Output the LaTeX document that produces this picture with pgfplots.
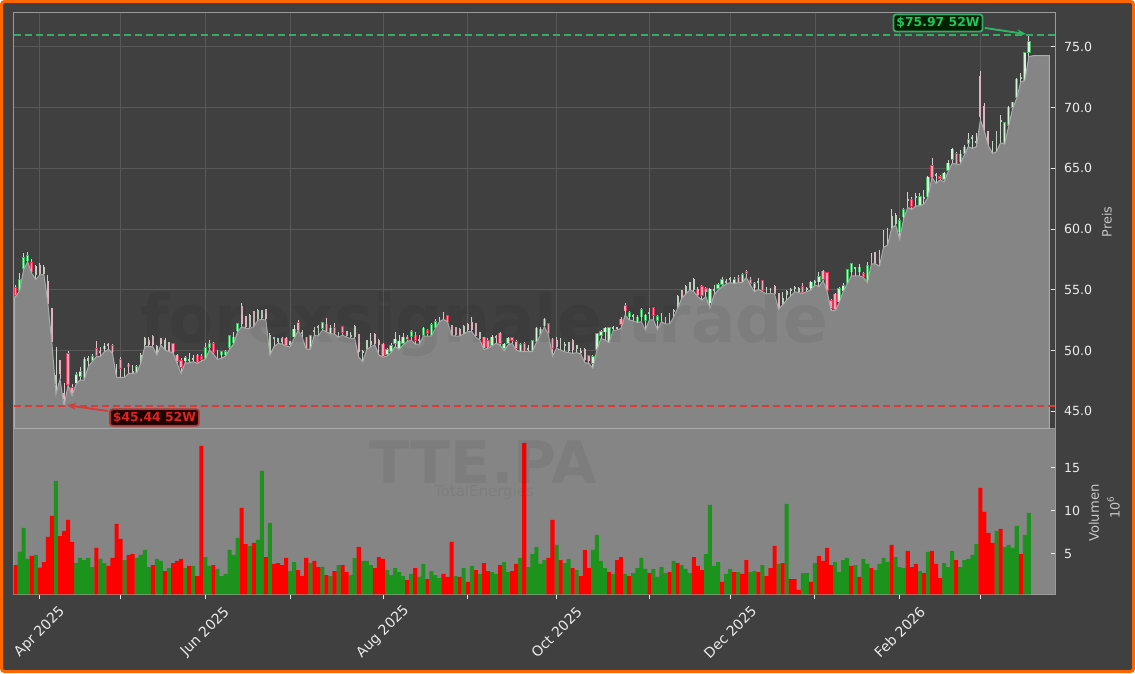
\documentclass[border=0pt]{standalone}
\usepackage{fontspec}
\setmainfont{DejaVu Sans}
\usepackage{pgfplots}
\usepackage{pgfplotstable}
\pgfplotsset{compat=1.18}
\usetikzlibrary{arrows.meta}
\definecolor{bgc}{HTML}{404040}
\definecolor{orangec}{HTML}{FF6600}
\definecolor{areac}{HTML}{858585}
\definecolor{areal}{HTML}{ABABAB}
\definecolor{gridc}{HTML}{585858}
\definecolor{spinec}{HTML}{9A9A9A}
\definecolor{volr}{HTML}{FF0000}
\definecolor{volg}{HTML}{1C931C}
\definecolor{cG}{HTML}{3DB860}
\definecolor{cGi}{HTML}{D5F2DA}
\definecolor{cR}{HTML}{E8345A}
\definecolor{cRi}{HTML}{F3A6B8}
\definecolor{cg}{HTML}{BCCFBF}
\definecolor{cr}{HTML}{DDB4BE}
\definecolor{wG}{HTML}{C9D6CB}
\definecolor{wR}{HTML}{DCC4CA}
\definecolor{hiG}{HTML}{3CA868}
\definecolor{loR}{HTML}{D63C3C}
\definecolor{txG}{HTML}{22C55E}
\definecolor{txR}{HTML}{DC2626}
% columns: index, kind (1 up, 2 down, 3 pale up, 4 pale down, 0 outline only),
% body top, body bottom, high, low, volume is red, volume in millions
\pgfplotstableread{
i k t b h l r v
-0.25 0 54.42 54.42 54.42 54.42 2 0.3
0 2 55.19 54.53 55.38 54.42 1 3.68
1 1 55.85 54.97 56.40 54.92 0 5.23
2 1 57.66 56.76 57.99 56.67 0 7.98
3 1 57.77 57.39 58.13 57.30 0 4.38
4 2 57.25 56.48 57.50 56.34 1 4.73
5 3 56.89 56.21 57.03 55.85 0 4.85
6 4 57.03 56.34 57.17 56.21 1 3.37
7 3 56.84 56.34 57.03 56.26 1 4.03
8 4 55.66 53.88 56.21 53.82 1 6.94
9 4 53.46 50.72 53.50 50.58 1 9.38
10 3 47.98 47.24 50.25 46.41 0 13.45
11 4 49.21 48.06 49.25 47.62 1 7.05
12 4 46.47 46.06 47.29 45.44 1 7.64
13 2 49.76 47.24 49.98 47.15 1 8.91
14 2 46.94 46.47 47.24 46.28 1 6.36
15 1 47.98 47.35 48.25 47.24 0 3.91
16 1 48.28 47.90 48.66 47.57 0 4.50
17 1 49.27 47.70 49.43 47.57 0 4.26
18 3 49.35 49.16 49.54 48.66 0 4.50
19 1 49.51 49.21 49.71 49.08 0 3.45
20 2 50.17 49.60 50.80 49.49 1 5.66
21 4 49.90 49.82 50.31 49.49 0 4.38
22 1 50.36 50.14 50.58 49.90 0 3.91
23 4 50.53 50.42 50.64 50.09 1 3.57
24 2 50.42 49.90 50.53 49.76 1 4.50
25 3 48.86 48.75 48.90 47.79 1 8.45
26 2 49.21 48.53 49.49 47.79 1 6.71
27 3 48.22 48.11 48.53 47.79 0 4.26
28 2 48.86 48.66 48.94 48.11 1 4.85
29 3 48.31 48.17 48.80 48.11 1 4.96
30 1 48.69 48.25 48.80 48.17 0 4.50
31 3 49.62 48.99 49.82 48.94 0 4.85
32 3 51.00 50.45 51.13 50.31 0 5.43
33 4 50.86 50.45 51.08 50.31 0 3.45
34 4 51.19 50.45 51.25 50.31 1 3.68
35 3 50.36 49.76 50.45 49.62 0 4.38
36 4 51.00 50.58 51.00 50.45 0 4.15
37 3 50.86 50.17 51.00 50.04 1 2.98
38 4 50.64 49.98 50.72 49.90 0 3.33
39 2 50.58 49.90 50.62 49.82 1 3.91
40 2 49.60 49.10 49.71 48.94 1 4.15
41 2 49.16 48.61 49.35 48.11 1 4.38
42 1 49.43 49.16 49.54 48.99 0 3.33
43 3 49.27 49.16 49.76 48.99 1 3.57
44 3 49.32 49.21 49.62 49.08 0 3.57
45 2 49.60 49.02 49.71 48.94 1 2.40
46 2 49.49 49.27 49.71 49.13 1 17.52
47 1 50.25 49.35 50.58 49.27 0 4.61
48 1 50.58 50.25 50.86 50.04 0 3.57
49 2 50.58 49.84 50.69 49.71 1 3.68
50 3 49.49 49.35 50.04 49.27 0 3.22
51 1 49.90 49.65 49.98 49.35 0 2.40
52 1 49.90 49.65 50.04 49.54 0 2.64
53 1 51.19 50.25 51.22 50.09 0 5.43
54 1 51.08 50.64 51.54 50.53 0 4.85
55 1 52.23 51.63 52.28 51.54 0 6.82
56 4 53.66 52.23 53.93 51.96 1 10.31
57 4 52.83 51.96 52.86 51.82 1 6.12
58 3 52.92 51.96 53.00 51.82 0 5.89
59 4 53.24 52.09 53.27 51.96 1 6.24
60 3 53.33 52.64 53.38 52.50 0 6.59
61 3 53.27 52.72 53.33 52.56 0 14.61
62 4 53.38 52.64 53.44 52.50 1 4.61
63 3 51.27 49.76 51.41 49.62 0 8.57
64 3 51.05 50.94 51.13 50.31 1 3.80
65 3 51.00 50.72 51.05 50.58 1 3.91
66 3 51.00 50.72 51.08 50.53 1 3.68
67 2 51.00 50.45 51.13 50.36 1 4.50
68 3 50.72 50.45 50.80 50.31 0 2.98
69 1 51.74 51.13 52.09 51.00 0 4.03
70 2 52.28 51.68 52.50 51.63 1 3.10
71 3 51.47 51.36 51.69 51.08 1 2.40
72 2 51.08 50.18 51.14 50.12 1 4.50
73 1 51.22 50.18 51.27 50.09 0 3.91
74 3 51.69 51.58 51.96 51.27 1 4.15
75 3 51.96 51.85 52.10 51.19 1 3.45
76 1 52.29 51.82 52.37 51.69 0 3.45
77 2 52.15 51.63 52.65 51.55 1 2.52
78 1 51.82 51.41 52.10 51.36 0 2.40
79 2 51.90 51.47 52.29 51.36 1 2.98
80 3 51.33 51.22 51.55 51.08 0 3.68
81 2 51.96 51.49 52.01 51.27 1 3.68
82 4 51.55 51.19 51.63 51.08 1 2.87
83 3 51.27 51.14 51.55 51.00 0 2.52
84 3 52.01 51.14 52.10 51.00 0 4.50
85 4 51.33 49.90 51.36 49.44 1 5.78
86 3 49.96 49.85 50.04 49.08 0 4.15
87 3 50.81 50.18 50.86 50.09 0 4.15
88 3 50.73 50.45 51.41 50.31 0 3.68
89 4 51.36 50.59 51.41 50.45 1 3.33
90 4 50.81 50.45 50.92 49.63 1 4.61
91 2 50.51 49.55 50.59 49.44 1 4.38
92 1 50.04 49.66 50.18 49.55 0 3.10
93 1 50.37 49.93 50.59 49.82 0 2.52
94 1 50.92 50.59 51.55 50.31 0 3.33
95 1 50.75 50.18 51.27 50.09 0 2.87
96 1 51.08 50.59 51.41 50.45 0 2.40
97 2 51.08 50.92 51.27 50.73 1 1.94
98 1 51.52 51.19 51.69 50.86 0 2.64
99 2 51.25 50.86 51.55 50.53 1 3.33
100 3 50.92 50.81 51.27 50.53 0 2.29
101 1 51.82 51.27 51.96 51.19 0 3.80
102 2 51.60 51.41 51.74 51.19 1 2.05
103 1 52.10 51.27 52.23 51.19 0 2.98
104 1 52.37 51.88 52.56 51.82 0 2.52
105 3 52.56 52.45 52.78 52.37 0 2.17
106 3 52.89 52.78 53.19 52.56 1 2.64
107 2 52.84 52.37 52.92 52.37 1 2.29
108 4 52.10 51.27 52.13 51.22 1 6.36
109 4 51.90 51.27 51.96 51.19 0 2.40
110 4 51.77 51.27 51.82 51.19 1 2.29
111 3 52.01 51.47 52.10 51.36 0 3.33
112 4 52.18 51.69 52.23 51.55 1 1.71
113 4 52.29 51.69 52.78 51.55 0 3.57
114 4 52.23 51.19 52.29 51.08 1 3.10
115 3 51.47 51.00 51.55 50.86 0 2.64
116 2 51.08 50.23 51.14 50.09 1 3.91
117 2 50.81 50.31 51.00 50.18 1 2.98
118 1 51.08 50.45 51.27 50.37 0 2.87
119 3 51.19 51.08 51.27 50.59 0 2.64
120 2 51.41 50.59 51.55 50.45 1 3.68
121 1 50.51 50.18 50.59 49.98 0 4.03
122 1 51.00 50.59 51.14 50.45 0 2.87
123 2 51.05 50.86 51.14 50.59 1 2.98
124 2 50.73 50.18 50.86 50.04 1 3.80
125 1 50.45 49.98 50.59 49.90 0 4.50
126 2 50.53 49.98 50.73 49.90 1 17.87
127 3 50.18 50.04 50.45 49.90 0 3.45
128 1 50.78 50.04 50.86 49.90 0 4.96
129 1 51.82 50.73 51.90 50.64 0 5.78
130 1 51.74 51.36 51.90 51.27 0 3.80
131 1 52.56 52.04 52.65 51.96 0 4.26
132 2 52.23 51.41 52.29 51.27 1 4.50
133 2 50.92 50.18 51.00 49.55 1 8.91
134 4 50.81 50.31 51.08 50.18 0 6.01
135 3 50.73 50.18 51.00 50.04 1 4.26
136 3 50.51 50.37 50.73 49.90 0 3.91
137 3 50.64 49.98 50.73 49.82 0 4.38
138 4 50.86 50.04 50.92 49.77 1 3.33
139 3 50.42 50.18 50.45 49.82 0 3.10
140 3 49.96 49.85 50.18 49.71 1 2.40
141 4 50.12 49.22 50.18 49.00 1 5.43
142 2 49.55 49.16 49.63 48.94 1 3.33
143 1 49.49 48.94 49.63 48.53 0 5.43
144 1 51.36 50.09 51.47 50.04 0 7.17
145 1 51.55 51.27 51.68 51.00 0 4.15
146 1 51.82 51.55 51.90 50.86 0 3.33
147 1 51.88 50.72 51.96 50.64 1 2.87
148 3 51.88 51.77 52.01 51.63 0 2.64
149 3 51.88 51.77 51.96 51.68 1 4.26
150 2 52.56 52.18 52.78 51.82 1 4.61
151 2 53.71 53.27 53.93 52.92 0 2.64
152 1 53.11 52.78 53.27 52.51 1 2.40
153 3 52.89 52.78 53.00 52.45 0 2.75
154 1 52.73 52.37 52.92 52.29 0 3.33
155 1 53.38 52.78 53.47 52.37 0 4.50
156 1 52.89 52.51 53.00 51.68 0 3.22
157 3 53.16 53.05 53.47 52.51 1 2.75
158 2 53.49 52.92 53.60 52.51 0 3.22
159 1 52.78 52.51 52.92 51.74 0 2.29
160 3 52.78 52.67 53.05 52.37 0 3.45
161 3 52.56 52.45 52.78 52.18 0 2.75
162 3 52.70 52.59 53.05 52.18 1 2.87
163 3 53.33 53.22 53.38 52.73 0 4.15
164 3 54.48 53.60 54.56 53.47 1 3.91
165 4 54.92 54.37 54.98 54.29 0 3.68
166 3 55.30 54.76 55.39 54.65 0 3.22
167 3 55.58 55.03 55.66 54.98 0 2.75
168 3 55.85 54.98 55.94 54.84 1 4.61
169 2 55.03 54.56 55.20 54.43 1 3.57
170 2 55.25 54.56 55.39 54.15 1 3.10
171 2 55.11 54.84 55.20 54.43 0 4.96
172 1 55.03 53.93 55.11 53.47 0 10.66
173 3 55.03 54.92 55.39 54.56 0 3.57
174 1 55.39 55.11 55.52 54.98 0 4.03
175 1 55.85 55.47 56.02 55.25 1 1.71
176 3 55.72 55.61 55.85 55.47 0 2.64
177 3 55.91 55.80 56.07 55.58 0 3.22
178 1 55.85 55.58 56.02 55.52 1 2.87
179 2 55.99 55.66 56.21 55.58 0 2.87
180 1 56.24 55.66 56.35 55.58 1 2.64
181 2 56.48 56.35 56.62 56.02 1 4.26
182 2 55.85 55.52 56.02 55.39 0 2.87
183 1 55.52 55.17 55.66 54.84 0 2.98
184 3 55.72 55.61 55.94 55.03 1 2.87
185 2 55.72 54.98 55.80 54.84 0 3.68
186 3 54.98 54.87 55.25 54.65 1 2.40
187 3 54.89 54.78 55.11 54.70 1 3.33
188 4 55.30 54.70 55.39 54.65 1 5.89
189 4 54.70 53.52 54.76 53.41 0 3.80
190 3 54.29 53.80 54.84 53.74 1 3.91
191 3 54.84 54.56 54.98 54.15 0 10.78
192 3 55.03 54.92 55.11 54.48 1 2.05
193 3 55.17 55.06 55.30 54.84 1 2.05
194 3 55.09 54.87 55.25 54.76 1 0.78
195 2 55.25 54.78 55.58 54.70 0 2.75
196 3 55.09 54.98 55.25 54.84 0 2.75
197 1 55.61 55.17 55.74 54.98 1 1.71
198 3 55.72 55.61 55.80 55.39 0 3.91
199 1 56.07 55.66 56.48 55.25 1 4.73
200 2 56.51 55.85 56.62 55.74 1 4.15
201 2 56.40 54.98 56.48 54.92 1 5.66
202 2 54.07 53.49 54.21 53.27 1 3.68
203 2 54.62 53.38 54.70 53.27 0 4.03
204 1 55.11 54.02 55.25 53.93 0 2.87
205 1 55.33 54.92 55.52 54.84 0 4.26
206 1 56.62 55.52 56.68 55.47 0 4.50
207 1 57.12 56.48 57.22 56.13 1 3.57
208 3 56.81 56.70 56.90 56.13 0 3.68
209 1 56.84 56.48 57.12 56.13 1 2.29
210 2 56.29 56.13 56.48 56.02 0 4.38
211 1 56.95 55.66 57.31 55.58 0 3.80
212 3 57.77 57.17 57.99 57.12 1 3.33
213 4 58.05 57.12 58.05 57.12 0 3.10
214 3 57.94 57.12 58.27 56.95 0 3.80
215 3 59.64 58.60 59.91 58.49 0 4.50
216 3 59.91 58.82 60.05 58.68 0 4.03
217 3 61.01 60.19 61.61 60.05 1 6.01
218 3 61.15 60.41 61.28 60.32 0 4.61
219 1 60.65 59.78 60.87 59.15 0 3.45
220 1 61.56 61.01 61.70 60.87 0 3.33
221 3 62.44 62.33 63.07 61.78 1 5.31
222 2 62.38 61.89 62.66 61.61 1 3.45
223 3 62.66 62.55 62.99 61.89 1 3.80
224 1 62.66 61.97 62.93 61.89 0 2.98
225 3 62.63 62.52 63.20 62.05 1 2.75
226 1 64.25 62.66 64.36 62.60 0 5.20
227 2 65.21 64.30 65.81 64.25 1 5.31
228 3 64.49 64.38 64.58 63.75 1 3.80
229 2 64.30 64.16 64.44 64.03 1 2.17
230 1 64.58 64.08 64.71 63.89 0 3.91
231 1 65.40 64.85 65.67 64.71 0 3.45
232 1 66.55 65.73 66.63 65.40 0 5.31
233 2 66.17 65.45 66.36 65.34 1 4.26
234 1 66.14 65.54 66.50 65.34 0 3.45
235 1 66.72 66.22 66.91 66.08 0 4.26
236 1 67.37 67.04 67.87 66.77 0 4.38
237 3 67.57 67.46 67.73 66.63 0 4.85
238 3 67.24 67.13 67.92 66.77 0 6.12
239 4 72.59 69.24 73.02 68.97 1 12.64
240 4 70.12 68.09 70.34 68.01 1 9.85
241 4 68.06 66.91 68.06 66.83 1 7.40
242 3 66.91 66.80 67.26 66.22 1 6.24
243 3 68.06 66.50 68.06 66.36 0 7.64
244 3 68.97 68.86 69.38 67.10 1 7.87
245 1 68.77 67.10 68.83 66.99 0 5.78
246 1 70.01 68.55 70.12 68.47 0 6.01
247 1 70.42 70.01 70.47 69.93 0 5.66
248 1 72.31 70.83 72.39 70.75 0 8.22
249 3 72.50 72.39 72.86 72.12 1 4.96
250 1 74.53 72.26 74.59 72.20 0 7.17
251 1 75.41 74.53 75.97 74.18 0 9.73
252 0 74.26 74.26 74.26 74.26 2 0.3
256.05 0 74.26 74.26 74.26 74.26 2 0.3
}\dataT
\newcommand{\wicks}[2]{\addplot[forget plot, draw=none, no markers, restrict expr to domain={\thisrow{k}}{#1:#1}, error bars/.cd, y dir=plus, y explicit, error mark=none, error bar style={draw=#2,solid,line width=0.9pt}] table[x=i,y=l,y error plus expr=\thisrow{h}-\thisrow{l}] {\dataT};}
\newcommand{\bodies}[4]{\addplot[forget plot, draw=none, no markers, restrict expr to domain={\thisrow{k}}{#1:#1}, error bars/.cd, y dir=plus, y explicit, error mark=none, error bar style={draw=#2,solid,line width=#3}] table[x=i,y expr=\thisrow{b}-#4,y error plus expr=\thisrow{t}-\thisrow{b}+2*#4] {\dataT};}
\begin{document}
\begin{tikzpicture}[x=1pt,y=1pt]
\useasboundingbox (0,0) rectangle (1135,673);
\fill[white] (0,0) rectangle (1135,673);
\fill[bgc,draw=orangec,line width=3pt,rounded corners=3pt] (1.5,1.5) rectangle (1133.5,671.5);
\pgfplotsset{
  base/.style={
    scale only axis, width=1042pt,
    xmin=-0.52, xmax=257.6,
    axis line style={spinec,line width=1pt},
    ticklabel style={font=\fontsize{12.6}{14}\selectfont,color=white!92!black},
    /pgf/number format/assume math mode=true,
    y tick label style={xshift=5pt},
    ytick pos=right, yticklabel pos=right,
    tick style={white!92!black,line width=0.9pt},
    major tick length=5pt,
    xtick={6,26,47,68,91,112,134,157,177,198,219,239},
  },
}
\begin{axis}[base, at={(13.5pt,78.7pt)}, anchor=south west, height=165.5pt,
  ymin=0.28, ymax=19.5,
  ytick={5,10,15},
  axis background/.style={fill=areac},
  xtick pos=bottom,
  xticklabels={Apr 2025,,Jun 2025,,Aug 2025,,Oct 2025,,Dec 2025,,Feb 2026,},
  x tick label style={rotate=45,anchor=center,xshift=-23.3pt,yshift=-23.3pt,font=\fontsize{14}{16}\selectfont},
  ylabel={Volumen},
  every axis y label/.style={at={(axis description cs:1.0369,0.491)},rotate=90,anchor=center,font=\fontsize{13.2}{15}\selectfont,color=white!78!black},
  ybar, bar shift=0pt, bar width=1,
]
\addplot[fill=volg,draw=none,restrict expr to domain={\thisrow{r}}{0:0}] table[x=i,y=v] {\dataT};
\addplot[fill=volr,draw=none,restrict expr to domain={\thisrow{r}}{1:1}] table[x=i,y=v] {\dataT};
\end{axis}
\begin{axis}[base, at={(13.5pt,244.5pt)}, anchor=south west, height=416.2pt,
  ymin=43.58, ymax=77.83,
  ytick={45,50,55,60,65,70,75},
  xticklabels={},
  xtick pos=bottom,
  xtick style={draw=none},
  yticklabel style={/pgf/number format/.cd,fixed,fixed zerofill,precision=1},
  grid=major, grid style={gridc,line width=0.8pt},
  ylabel={Preis},
  every axis y label/.style={at={(axis description cs:1.0494,0.496)},rotate=90,anchor=center,font=\fontsize{12.8}{14}\selectfont,color=white!78!black},
]
\wicks{1}{wG}
\wicks{3}{wG}
\wicks{2}{wR}
\wicks{4}{wR}
\bodies{3}{cg}{1.8pt}{0.03}
\bodies{4}{cr}{2pt}{0.03}
\bodies{1}{cG}{3.3pt}{0.05}
\bodies{1}{cGi}{1.4pt}{-0.01}
\bodies{2}{cR}{3.3pt}{0.05}
\bodies{2}{cRi}{1.4pt}{-0.01}
\addplot[fill=areac,draw=areal,line width=1pt] table[x=i,y=l] {\dataT} \closedcycle;
\addplot[hiG,line width=1.5pt,dash pattern=on 7pt off 4pt] coordinates {(-0.52,75.97) (257.6,75.97)};
\addplot[loR,line width=1.5pt,dash pattern=on 7pt off 4pt] coordinates {(-0.52,45.44) (257.6,45.44)};
\draw[-{Stealth[length=9pt,width=7pt]},hiG!70!txG,line width=1.9pt] (axis cs:240.1,76.54) -- (axis cs:250.3,76.04);
\draw[-{Stealth[length=9pt,width=7pt]},loR,line width=1.9pt] (axis cs:22.9,45.02) -- (axis cs:12.7,45.5);
\node[fill=black!85!green!85!black,draw=hiG,line width=1.8pt,rounded corners=2.5pt,inner xsep=3pt,inner ysep=2.8pt,text=txG,font=\fontsize{12.4}{14}\selectfont\bfseries] at (axis cs:228.5,76.95) {\$75.97 52W};
\node[fill=black!85!red!85!black,draw=loR!85!black,line width=1.8pt,rounded corners=2.5pt,inner xsep=2.8pt,inner ysep=2.6pt,text=txR,font=\fontsize{12.4}{14}\selectfont\bfseries] at (axis cs:34.4,44.48) {\$45.44 52W};
\end{axis}
\node[rotate=90,font=\fontsize{12.8}{14}\selectfont,color=white!78!black] at (1113.5,165.3) {10\raisebox{0.45em}{\fontsize{8.8}{10}\selectfont 6}};
\node[opacity=0.055,black,font=\fontsize{66}{70}\selectfont\bfseries] at (484,348) {forexsignale.trade};
\node[opacity=0.055,black,font=\fontsize{58.7}{60}\selectfont\bfseries] at (483,211) {TTE.PA};
\node[opacity=0.05,black,font=\fontsize{15}{17}\selectfont] at (484,181) {TotalEnergies};
\end{tikzpicture}
\end{document}
